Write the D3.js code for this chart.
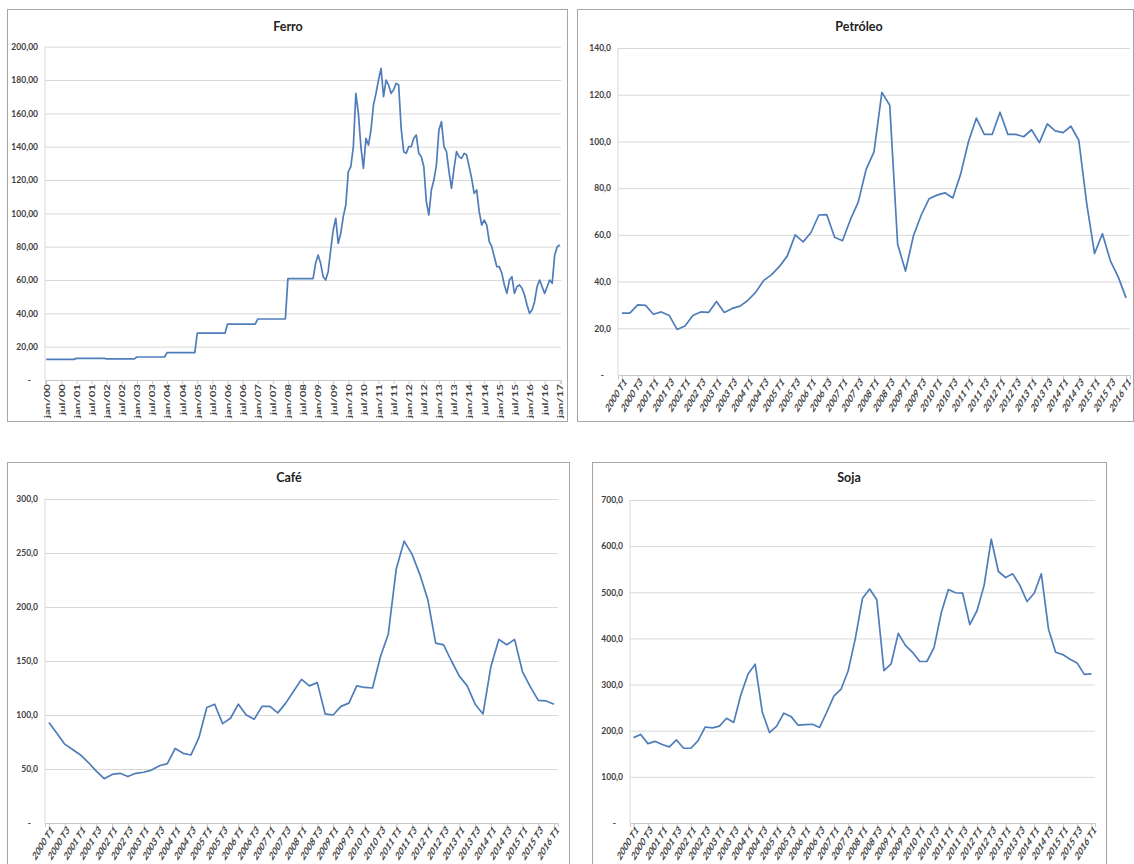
<!DOCTYPE html>
<html><head><meta charset="utf-8">
<script src="https://cdn.jsdelivr.net/npm/d3@7"></script>
<style>
body{margin:0;background:#fff}
text{font-family:Lato,"Open Sans",sans-serif}
</style>
</head><body>
<svg id="c" width="1134" height="864"></svg>
<script>
// ---------- categories ----------
const monthNames = ["jan","fev","mar","abr","mai","jun","jul","ago","set","out","nov","dez"];
const ferroYears = ["00","01","02","03","04","05","06","07","08","09","10","11","12","13","14","15","16"];
const quarterYears = ["2000","2001","2002","2003","2004","2005","2006","2007","2008","2009","2010","2011","2012","2013","2014","2015"];
const quarterNames = ["T1","T2","T3","T4"];

const ferroCategories = [];
ferroYears.forEach(y => monthNames.forEach(m => ferroCategories.push(m + "/" + y)));
ferroCategories.push("jan/17");

const quarterCategories = [];
quarterYears.forEach(y => quarterNames.forEach(q => quarterCategories.push(y + " " + q)));
quarterCategories.push("2016 T1");

// ---------- tick labels ----------
const ferroTickLabels = ["jan/00","jul/00","jan/01","jul/01","jan/02","jul/02","jan/03","jul/03","jan/04","jul/04",
  "jan/05","jul/05","jan/06","jul/06","jan/07","jul/07","jan/08","jul/08","jan/09","jul/09","jan/10","jul/10",
  "jan/11","jul/11","jan/12","jul/12","jan/13","jul/13","jan/14","jul/14","jan/15","jul/15","jan/16","jul/16","jan/17"];
const quarterTickLabels = ["2000 T1","2000 T3","2001 T1","2001 T3","2002 T1","2002 T3","2003 T1","2003 T3",
  "2004 T1","2004 T3","2005 T1","2005 T3","2006 T1","2006 T3","2007 T1","2007 T3","2008 T1","2008 T3",
  "2009 T1","2009 T3","2010 T1","2010 T3","2011 T1","2011 T3","2012 T1","2012 T3","2013 T1","2013 T3",
  "2014 T1","2014 T3","2015 T1","2015 T3","2016 T1"];

const ferroYTicks = [0,20,40,60,80,100,120,140,160,180,200];
const petroleoYTicks = [0,20,40,60,80,100,120,140];
const cafeYTicks = [0,50,100,150,200,250,300];
const sojaYTicks = [0,100,200,300,400,500,600,700];

// ---------- values ----------
const ferroValues = [
  12.4,12.4,12.4,12.4,12.4,12.4,12.4,12.4,12.4,12.4,12.4,12.4,
  13.0,13.0,13.0,13.0,13.0,13.0,13.0,13.0,13.0,13.0,13.0,13.0,
  12.7,12.7,12.7,12.7,12.7,12.7,12.7,12.7,12.7,12.7,12.7,12.7,
  13.8,13.8,13.8,13.8,13.8,13.8,13.8,13.8,13.8,13.8,13.8,13.8,
  16.4,16.4,16.4,16.4,16.4,16.4,16.4,16.4,16.4,16.4,16.4,16.4,
  28.1,28.1,28.1,28.1,28.1,28.1,28.1,28.1,28.1,28.1,28.1,28.1,
  33.5,33.5,33.5,33.5,33.5,33.5,33.5,33.5,33.5,33.5,33.5,33.5,
  36.6,36.6,36.6,36.6,36.6,36.6,36.6,36.6,36.6,36.6,36.6,36.6,
  60.8,60.8,60.8,60.8,60.8,60.8,60.8,60.8,60.8,60.8,60.8,70,
  75,70,62,60,65,78,90,97,82,88,98,105,
  125,128,140,172,160,140,127,145,141,150,165,172,
  180,187,170,180,177,172,174,178,177,151,137,136,
  140,140,145,147,136,134,128,107,99,114,120,129,
  150,155,140,137,125,115,127,137,134,133,136,135,
  128,121,112,114,101,93,96,93,83,80,74,68,
  68,64,57,52,60,62,52,56,57,55,51,45,
  40,42,47,56,60,56,52,56,60,58,75,80,
  81];

const petroleoValues = [
  26.5,26.5,30,29.8,26,27,25.5,19.5,21,25.5,27,26.8,31.5,26.8,28.5,29.5,
  32,35.5,40.5,43,46.5,51,60,57,61,68.5,68.7,59,57.5,66.5,74,88,
  95.5,121,115.5,56,44.5,59.5,68.5,75.5,77,78,75.8,86,100,110,103,103,
  112.5,103,103,102,105,99.5,107.5,104.5,103.8,106.5,100.5,73.5,52,60.5,49,42,
  33];

const cafeValues = [
  93,83,73,68,63,56,48,41,45,46,43,46,47,49,53,55,
  69,64.5,63,79,107,110,92,97,110,100,96,108,108,102,111,122,
  133,127,130,101,100,108,111,127,125.5,125,154,175,235,261,249,230,
  207,166.5,165,150,136,127,110,101,145,170,165,170,140,126,113.5,113,
  110];

const sojaValues = [
  185,192,172,177,170,165,180,162,162,178,208,206,210,227,218,278,
  323,344,240,196,210,238,231,212,213,214,207,240,275,290,330,400,
  487,507,484,330,345,411,385,370,350,350,380,455,506,499,498,430,
  460,515,615,545,532,540,515,480,498,540,420,370,365,355,347,322,
  323];

// ---------- drawing ----------
const svg = d3.select("#c");
svg.append("rect").attr("width",1134).attr("height",864).attr("fill","#fff");

const locale = d3.formatLocale({decimal: ",", thousands: ".", grouping: [3], currency: ["R$",""]});
const LINE = "#4f7dba";
const GRID = "#d9d9d9";
const TXT = "#404040";

function panel(cfg) {
  const g = svg.append("g");
  g.append("rect").attr("x", cfg.box[0]).attr("y", cfg.box[1])
    .attr("width", cfg.box[2]).attr("height", cfg.box[3])
    .attr("fill", "#fff").attr("stroke", "#a6a6a6").attr("stroke-width", 1);

  g.append("text").attr("x", cfg.titleX).attr("y", cfg.titleY)
    .attr("text-anchor", "middle").attr("font-size", 12.5).attr("font-weight", 700)
    .attr("fill", "#222").text(cfg.title);

  const x = d3.scalePoint().domain(cfg.categories).range([cfg.l, cfg.r]).padding(0.5);
  const y = d3.scaleLinear().domain([0, d3.max(cfg.yTicks)]).range([cfg.b, cfg.t]);
  const fmt = locale.format("." + cfg.dec + "f");

  // gridlines + y labels via axis
  const ya = g.append("g").attr("transform", `translate(${cfg.l},0)`)
    .call(d3.axisLeft(y).tickValues(cfg.yTicks).tickSize(-(cfg.r - cfg.l)).tickPadding(7)
      .tickFormat(d => d === 0 ? "-" : fmt(d)));
  ya.select(".domain").remove();
  ya.selectAll(".tick line").attr("stroke", GRID).attr("stroke-width", 1)
    .filter(d => d === 0).remove();
  ya.selectAll(".tick text").attr("font-size", 8.5).attr("font-weight", 700)
    .attr("fill", TXT).attr("font-family", "Lato, sans-serif")
    .filter(d => d === 0).attr("dx", -7);

  // y axis line
  g.append("line").attr("x1", cfg.l).attr("x2", cfg.l).attr("y1", cfg.t).attr("y2", cfg.b)
    .attr("stroke", GRID).attr("stroke-width", 1);

  // x axis
  const xa = g.append("g").attr("transform", `translate(0,${cfg.b})`)
    .call(d3.axisBottom(x).tickValues(cfg.tickLabels).tickSize(4).tickPadding(3));
  xa.select(".domain").attr("stroke", "#c8c8c8");
  xa.selectAll(".tick line").attr("stroke", "#c8c8c8");
  const tt = xa.selectAll(".tick text").attr("font-weight", 700)
    .attr("fill", TXT).attr("font-family", "Lato, sans-serif").attr("text-anchor", "end");
  if (cfg.rot === -90) {
    tt.attr("font-size", 11.5).attr("transform", "translate(0,4) scale(0.7,1) rotate(-90)")
      .attr("x", 0).attr("y", 0).attr("dy", "0.35em");
  } else {
    tt.attr("font-size", 11.5).attr("transform", "translate(3,5) scale(0.62,1) rotate(-45)")
      .attr("x", 0).attr("y", 0).attr("dy", "0.35em");
  }

  const line = d3.line().x((d, i) => x(cfg.categories[i])).y(d => y(d));
  g.append("path").datum(cfg.values).attr("d", line)
    .attr("fill", "none").attr("stroke", LINE).attr("stroke-width", 1.7)
    .attr("stroke-linejoin", "round");
}

panel({title: "Ferro", titleX: 288, titleY: 31, box: [7.5, 9.5, 560, 412],
  l: 45, r: 561, t: 46.7, b: 380, yTicks: ferroYTicks, dec: 2,
  categories: ferroCategories, tickLabels: ferroTickLabels, values: ferroValues, rot: -90});
panel({title: "Petróleo", titleX: 859, titleY: 31, box: [577.5, 9.5, 556, 412],
  l: 618, r: 1130, t: 48, b: 375, yTicks: petroleoYTicks, dec: 1,
  categories: quarterCategories, tickLabels: quarterTickLabels, values: petroleoValues, rot: -45});
panel({title: "Café", titleX: 289, titleY: 482, box: [7.5, 462.5, 562, 420],
  l: 45, r: 558, t: 499, b: 823, yTicks: cafeYTicks, dec: 1,
  categories: quarterCategories, tickLabels: quarterTickLabels, values: cafeValues, rot: -45});
panel({title: "Soja", titleX: 849, titleY: 482, box: [592.5, 462.5, 514, 420],
  l: 630, r: 1095, t: 500, b: 823, yTicks: sojaYTicks, dec: 1,
  categories: quarterCategories, tickLabels: quarterTickLabels, values: sojaValues, rot: -45});
</script>
</body></html>
